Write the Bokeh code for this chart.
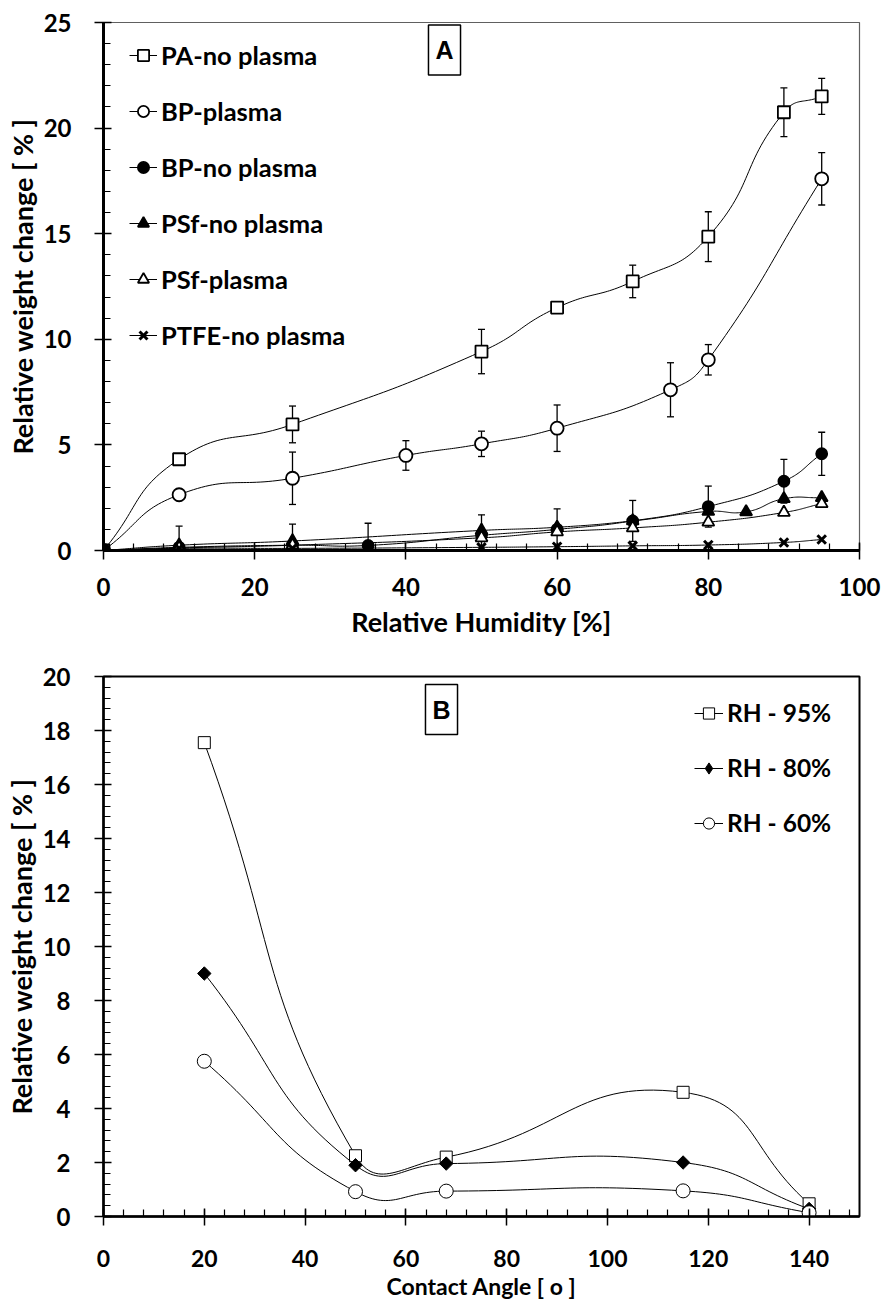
import numpy as np
from bokeh.plotting import figure
from bokeh.layouts import column
from bokeh.models import (ColumnDataSource, Whisker, TeeHead, Legend, LegendItem,
                          FixedTicker, Range1d, Label)
from bokeh.embed import file_html
from bokeh.resources import INLINE

# ---------------- Panel A data (Relative Humidity [%] vs weight change [%]) -------------
rh_pa = [0, 10, 25, 50, 60, 70, 80, 90, 95]
pa_no_plasma = [0, 4.32, 5.97, 9.42, 11.5, 12.74, 14.86, 20.75, 21.5]
pa_no_plasma_err = [0, 0, 0.87, 1.05, 0, 0.77, 1.18, 1.15, 0.85]

rh_bp_plasma = [0, 10, 25, 40, 50, 60, 75, 80, 95]
bp_plasma = [0, 2.64, 3.42, 4.5, 5.05, 5.79, 7.61, 9.03, 17.6]
bp_plasma_err = [0, 0, 1.24, 0.7, 0.6, 1.1, 1.28, 0.72, 1.24]

rh_bp_no = [0, 10, 25, 35, 50, 60, 70, 80, 90, 95]
bp_no_plasma = [0, 0.15, 0.25, 0.24, 0.72, 1.0, 1.4, 2.08, 3.28, 4.58]
bp_no_plasma_err = [0, 1.0, 1.0, 1.05, 0.97, 0.97, 0.97, 0.97, 1.03, 1.02]

rh_psf_no = [0, 10, 25, 50, 60, 70, 80, 85, 90, 95]
psf_no_plasma = [0, 0.25, 0.45, 0.95, 1.1, 1.4, 1.85, 1.83, 2.45, 2.5]

rh_psf_plasma = [0, 10, 25, 50, 60, 70, 80, 90, 95]
psf_plasma = [0, 0.12, 0.25, 0.6, 0.88, 1.07, 1.34, 1.8, 2.22]

rh_ptfe = [0, 10, 25, 50, 60, 70, 80, 90, 95]
ptfe_no_plasma = [0, 0.1, 0.1, 0.15, 0.18, 0.22, 0.26, 0.38, 0.52]

a_x_ticks = [0, 20, 40, 60, 80, 100]
a_y_ticks = [0, 5, 10, 15, 20, 25]

# ---------------- Panel B data (Contact angle vs weight change) -------------
contact_angle = [20, 50, 68, 115, 140]
rh95 = [17.55, 2.25, 2.2, 4.6, 0.47]
rh80 = [9.0, 1.9, 1.96, 2.0, 0.28]
rh60 = [5.75, 0.92, 0.94, 0.95, 0.14]

b_x_ticks = [0, 20, 40, 60, 80, 100, 120, 140]
b_y_ticks = [0, 2, 4, 6, 8, 10, 12, 14, 16, 18, 20]

FONT = "Lato"
W = 886


def smooth_curve(xs, ys, kx, ky, n=30, tension=0.5):
    """Excel-like smoothed line through the points (Bezier, chord-length weighted, screen space)."""
    P = np.column_stack([np.asarray(xs, float) * kx, np.asarray(ys, float) * ky])
    m = len(P)
    out = []
    for i in range(m - 1):
        p0 = P[i - 1] if i > 0 else P[i]
        p1, p2 = P[i], P[i + 1]
        p3 = P[i + 2] if i + 2 < m else P[i + 1]
        d01 = np.hypot(*(p1 - p0)); d12 = np.hypot(*(p2 - p1)); d23 = np.hypot(*(p3 - p2))
        f1 = tension * d12 / (d01 + d12) if d01 + d12 > 0 else 0
        f2 = tension * d12 / (d12 + d23) if d12 + d23 > 0 else 0
        c1 = p1 + (p2 - p0) * f1
        c2 = p2 - (p3 - p1) * f2
        ts = np.linspace(0, 1, n, endpoint=(i == m - 2))
        for t in ts:
            b = ((1 - t) ** 3) * p1 + 3 * ((1 - t) ** 2) * t * c1 + 3 * (1 - t) * t * t * c2 + t ** 3 * p2
            out.append(b)
    out = np.array(out)
    return out[:, 0] / kx, out[:, 1] / ky


def style_axes(p, xfs, yfs, xlfs, ylfs):
    for ax, fs, lfs in ((p.xaxis[0], xfs, xlfs), (p.yaxis[0], yfs, ylfs)):
        ax.major_label_text_font = FONT
        ax.major_label_text_font_style = "bold"
        ax.major_label_text_font_size = fs
        ax.major_label_text_color = "black"
        ax.axis_label_text_font = FONT
        ax.axis_label_text_font_style = "bold"
        ax.axis_label_text_font_size = lfs
        ax.axis_label_text_color = "black"
        ax.axis_line_color = "black"
        ax.major_tick_line_color = "black"
        ax.minor_tick_line_color = "black"
        ax.major_tick_in = 8
        ax.major_tick_out = 9
        ax.minor_tick_in = 7
        ax.minor_tick_out = 0
        ax.major_tick_line_width = 1.5
        ax.minor_tick_line_width = 1.2
    p.xgrid.visible = False
    p.ygrid.visible = False


# ======================= Panel A ==========================
A_L, A_R, A_T, A_B = 96, 27, 22, 110
A_H = 660
p1 = figure(width=W, height=A_H, x_range=Range1d(0, 100), y_range=Range1d(0, 25),
            output_backend="svg", toolbar_location=None,
            min_border_left=A_L, min_border_right=A_R, min_border_top=A_T, min_border_bottom=A_B,
            outline_line_color="#606060", outline_line_width=1.2, background_fill_color="white",
            border_fill_color="white")
p1.xaxis.ticker = FixedTicker(ticks=a_x_ticks, minor_ticks=list(range(0, 101, 4)))
p1.yaxis.ticker = FixedTicker(ticks=a_y_ticks, minor_ticks=list(range(0, 26)))
p1.xaxis.axis_label = "Relative Humidity [%]"
p1.yaxis.axis_label = "Relative weight change [ % ]"
style_axes(p1, "24px", "24px", "27px", "27px")
p1.xaxis.axis_line_width = 3
p1.yaxis.axis_line_width = 3
p1.xaxis.major_label_standoff = 18
p1.yaxis.major_label_standoff = 23
p1.xaxis.axis_label_standoff = 6
p1.yaxis.axis_label_standoff = 2

a_kx = (W - A_L - A_R) / 100.0
a_ky = (A_H - A_T - A_B) / 25.0

series_a = [
    ("PA-no plasma", rh_pa, pa_no_plasma, pa_no_plasma_err, "square", "white", 12),
    ("BP-plasma", rh_bp_plasma, bp_plasma, bp_plasma_err, "circle", "white", 13),
    ("BP-no plasma", rh_bp_no, bp_no_plasma, bp_no_plasma_err, "circle", "black", 11),
    ("PSf-no plasma", rh_psf_no, psf_no_plasma, None, "triangle", "black", 12),
    ("PSf-plasma", rh_psf_plasma, psf_plasma, None, "triangle", "white", 12),
    ("PTFE-no plasma", rh_ptfe, ptfe_no_plasma, None, "x", None, 12),
]

items_a = []
for name, xs, ys, err, marker, fill, size in series_a:
    sx, sy = smooth_curve(xs, ys, a_kx, a_ky)
    lr = p1.line(sx, sy, line_color="black", line_width=1)
    if err is not None:
        ex = [x for x, e in zip(xs, err) if e > 0]
        ey = [y for y, e in zip(ys, err) if e > 0]
        ee = [e for e in err if e > 0]
        src = ColumnDataSource(dict(x=ex, upper=[y + e for y, e in zip(ey, ee)],
                                    lower=[y - e for y, e in zip(ey, ee)]))
        wk = Whisker(source=src, base="x", upper="upper", lower="lower",
                     line_color="black", line_width=1.3,
                     upper_head=TeeHead(size=7, line_color="black", line_width=1.3),
                     lower_head=TeeHead(size=7, line_color="black", line_width=1.3))
        p1.add_layout(wk)
    if marker == "x":
        sr = p1.scatter(xs, ys, marker="x", size=size, line_color="black", line_width=3)
    else:
        sr = p1.scatter(xs, ys, marker=marker, size=size, line_color="black",
                        line_width=1.8, fill_color=fill)
    items_a.append(LegendItem(label=name, renderers=[lr, sr]))

leg_a = Legend(items=items_a, location=(26, 200),
               label_text_font=FONT, label_text_font_style="bold", label_text_font_size="25.5px",
               label_text_color="black",
               glyph_width=28, glyph_height=28, label_height=26, spacing=26, padding=0, margin=0,
               label_standoff=4, border_line_color=None, background_fill_alpha=0)
p1.add_layout(leg_a)

lab_a = Label(x=341, y=500.5, x_units="screen", y_units="screen", text="A",
              text_align="center", text_baseline="middle", text_color="black",
              text_font="Liberation Sans", text_font_style="bold", text_font_size="25px",
              border_line_color="black", border_line_width=1.5, background_fill_color="white",
              padding=(7, 11))
p1.add_layout(lab_a)

# ======================= Panel B ==========================
B_L, B_R, B_T, B_B = 103, 23, 16, 90
B_H = 1306 - A_H
p2 = figure(width=W, height=B_H, x_range=Range1d(0, 150), y_range=Range1d(0, 20),
            output_backend="svg", toolbar_location=None,
            min_border_left=B_L, min_border_right=B_R, min_border_top=B_T, min_border_bottom=B_B,
            outline_line_color="black", outline_line_width=2, background_fill_color="white",
            border_fill_color="white")
p2.xaxis.ticker = FixedTicker(ticks=b_x_ticks, minor_ticks=list(range(0, 151, 4)))
p2.yaxis.ticker = FixedTicker(ticks=b_y_ticks,
                              minor_ticks=[round(v, 1) for v in np.arange(0, 20.01, 0.4)])
p2.xaxis.axis_label = "Contact Angle [ o ]"
p2.yaxis.axis_label = "Relative weight change [ % ]"
style_axes(p2, "23px", "24px", "23px", "27px")
p2.xaxis.axis_line_width = 2.5
p2.yaxis.axis_line_width = 2.5
p2.xaxis.major_label_standoff = 24
p2.yaxis.major_label_standoff = 24
p2.xaxis.axis_label_standoff = 2
p2.yaxis.axis_label_standoff = 2

b_kx = (W - B_L - B_R) / 150.0
b_ky = (B_H - B_T - B_B) / 20.0

series_b = [
    ("RH - 95%", rh95, "square", "white", 12, 0.0, "square"),
    ("RH - 80%", rh80, "square", "black", 9.5, np.pi / 4, "diamond"),
    ("RH - 60%", rh60, "circle", "white", 14, 0.0, "circle"),
]
items_b = []
for name, ys, marker, fill, size, ang, leg_marker in series_b:
    sx, sy = smooth_curve(contact_angle, ys, b_kx, b_ky)
    lr = p2.line(sx, sy, line_color="black", line_width=1)
    gr = None
    if leg_marker != marker:
        # legend glyph (Bokeh legends ignore marker angle); hidden under the rotated squares
        gr = p2.scatter(contact_angle, ys, marker=leg_marker, size=size, line_color="black",
                        line_width=1, fill_color=fill)
    sr = p2.scatter(contact_angle, ys, marker=marker, size=size, angle=ang,
                    line_color="black", line_width=1, fill_color=fill)
    items_b.append(LegendItem(label=name, renderers=[lr, gr if gr is not None else sr]))

leg_b = Legend(items=items_b, location=(591, 379),
               label_text_font=FONT, label_text_font_style="bold", label_text_font_size="24.5px",
               label_text_color="black",
               glyph_width=29, glyph_height=28, label_height=26, spacing=26, padding=0, margin=0,
               label_standoff=4, border_line_color=None, background_fill_alpha=0)
p2.add_layout(leg_b)

lab_b = Label(x=338, y=507, x_units="screen", y_units="screen", text="B",
              text_align="center", text_baseline="middle", text_color="black",
              text_font="Liberation Sans", text_font_style="bold", text_font_size="25px",
              border_line_color="black", border_line_width=1.5, background_fill_color="white",
              padding=(7, 11))
p2.add_layout(lab_b)

layout = column(p1, p2, spacing=0)
open("out.html", "w").write(file_html(layout, INLINE))
